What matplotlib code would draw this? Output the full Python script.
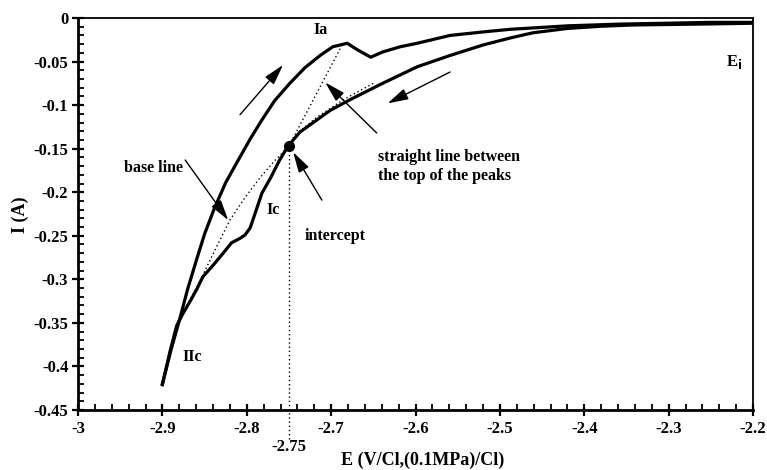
import matplotlib
matplotlib.use("Agg")
import matplotlib.pyplot as plt
from matplotlib.ticker import MultipleLocator, FuncFormatter

plt.rcParams['font.family'] = ['Liberation Serif', 'DejaVu Serif']
plt.rcParams['font.weight'] = 'bold'
plt.rcParams['axes.unicode_minus'] = False

# anodic scan, -2.9 V -> -2.2 V
fwd_e = [-2.900, -2.890, -2.879, -2.870, -2.860, -2.850, -2.839, -2.825, -2.810,
         -2.796, -2.782, -2.767, -2.749, -2.731, -2.713, -2.698, -2.681, -2.668,
         -2.653, -2.639, -2.618, -2.598, -2.559, -2.520, -2.488, -2.420, -2.358,
         -2.302, -2.251, -2.200]
fwd_i = [-0.420, -0.382, -0.344, -0.311, -0.279, -0.248, -0.220, -0.189, -0.163,
         -0.139, -0.117, -0.095, -0.075, -0.057, -0.043, -0.033, -0.029, -0.037,
         -0.045, -0.039, -0.033, -0.029, -0.020, -0.016, -0.013, -0.009, -0.007,
         -0.006, -0.005, -0.005]

# cathodic scan, -2.2 V -> -2.9 V
rev_e = [-2.200, -2.263, -2.342, -2.381, -2.420, -2.461, -2.488, -2.520, -2.559,
         -2.598, -2.639, -2.678, -2.701, -2.737, -2.751, -2.761, -2.772, -2.782,
         -2.790, -2.796, -2.802, -2.808, -2.818, -2.828, -2.840, -2.852, -2.859,
         -2.867, -2.876, -2.883, -2.891, -2.900]
rev_i = [-0.006, -0.007, -0.008, -0.0095, -0.012, -0.017, -0.023, -0.031, -0.043,
         -0.056, -0.075, -0.094, -0.106, -0.131, -0.147, -0.163, -0.184, -0.201,
         -0.224, -0.241, -0.249, -0.253, -0.258, -0.270, -0.284, -0.297, -0.311,
         -0.325, -0.340, -0.353, -0.383, -0.421]

# extrapolated base line under the cathodic wave
base_e = [-2.882, -2.871, -2.855, -2.838, -2.820, -2.802, -2.784, -2.767, -2.751,
          -2.737, -2.717, -2.684, -2.650]
base_i = [-0.352, -0.330, -0.301, -0.267, -0.232, -0.206, -0.183, -0.164, -0.148,
          -0.130, -0.114, -0.093, -0.075]

# straight line joining the peak tops, and its intercept with the base line
peak_e = [-2.687, -2.750]
peak_i = [-0.031, -0.147]
icpt_e, icpt_i = -2.750, -0.147

fig = plt.figure(figsize=(7.67, 4.70), dpi=100)
ax = fig.add_axes([78/767, 60/470, 675/767, 392/470])

ax.plot(fwd_e, fwd_i, color='k', lw=2.3, solid_joinstyle='round')
ax.plot(rev_e, rev_i, color='k', lw=2.3, solid_joinstyle='round')
ax.plot(base_e, base_i, color='k', lw=1.0, ls=(0, (1, 2)))
ax.plot(peak_e, peak_i, color='k', lw=1.0, ls=(0, (1, 2)))
ax.plot([icpt_e, icpt_e], [icpt_i, -0.485], color='k', lw=1.0, ls=(0, (1, 2)),
        clip_on=False)
ax.plot(icpt_e, icpt_i, 'o', color='k', ms=7)

ax.set_xlim(-3, -2.2)
ax.set_ylim(-0.45, 0)
ax.xaxis.set_major_locator(MultipleLocator(0.1))
ax.xaxis.set_minor_locator(MultipleLocator(0.02))
ax.yaxis.set_major_locator(MultipleLocator(0.05))
ax.yaxis.set_minor_locator(MultipleLocator(0.01))
fmt = FuncFormatter(lambda v, p: f"{round(v, 3):g}")
ax.xaxis.set_major_formatter(fmt)
ax.yaxis.set_major_formatter(fmt)
ax.tick_params(which='major', direction='inout', length=8, width=1.6,
               labelsize=12, pad=3)
ax.tick_params(which='minor', direction='in', length=4, width=1.3)
ax.tick_params(axis='x', which='major', pad=4)
for lab in ax.get_xticklabels() + ax.get_yticklabels():
    lab.set_fontweight('bold')

for s in ['left', 'bottom']:
    ax.spines[s].set_linewidth(2.0)
for s in ['top', 'right']:
    ax.spines[s].set_linewidth(1.3)

tk = dict(fontsize=11.5, fontweight='bold', ha='center', va='center')
ax.text(-2.713, -0.014, 'Ia', **tk)
ax.text(-2.769, -0.220, 'Ic', **tk)
ax.text(-2.864, -0.389, 'IIc', **tk)
ax.text(-2.911, -0.172, 'base line', **tk)
ax.text(-2.695, -0.250, 'intercept', **tk)
ax.text(-2.645, -0.170, 'straight line between\nthe top of the peaks',
        fontsize=11.5, fontweight='bold', ha='left', va='center', linespacing=1.25)
ax.text(-2.222, -0.050, r'E$_\mathbf{i}$', fontsize=12, fontweight='bold',
        ha='center', va='center')
ax.text(-2.750, -0.4925, '-2.75', fontsize=12, fontweight='bold',
        ha='center', va='center', clip_on=False)

arr = dict(arrowstyle='-|>,head_length=0.9,head_width=0.25', color='k', lw=1.0,
           shrinkA=0, shrinkB=0, mutation_scale=14)
for tail, head in [((-2.808, -0.111), (-2.757, -0.054)),
                   ((-2.559, -0.062), (-2.633, -0.098)),
                   ((-2.646, -0.132), (-2.707, -0.074)),
                   ((-2.711, -0.209), (-2.745, -0.154)),
                   ((-2.873, -0.163), (-2.822, -0.232))]:
    ax.annotate('', xy=head, xytext=tail, arrowprops=arr)

fig.text(423/767, 1 - 460/470, 'E (V/Cl,(0.1MPa)/Cl)', fontsize=13,
         fontweight='bold', ha='center', va='center')
fig.text(20/767, 1 - 215/470, 'I (A)', fontsize=13, fontweight='bold',
         ha='center', va='center', rotation=90)

fig.savefig('out.png', dpi=100)
